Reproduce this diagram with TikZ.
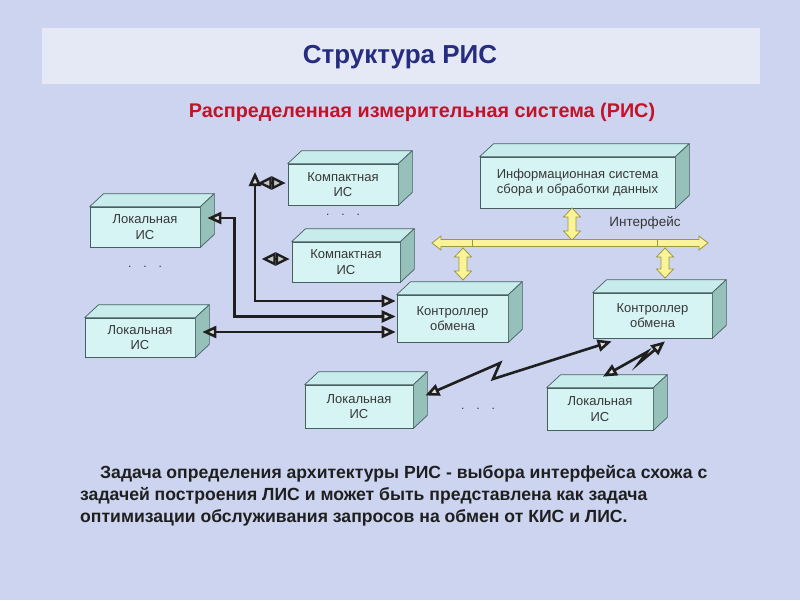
\documentclass[tikz,border=0pt]{standalone}
\usepackage{fontspec}
\setmainfont{Liberation Sans}
\usetikzlibrary{arrows.meta,calc}
\definecolor{bgc}{RGB}{204,212,240}
\definecolor{bandc}{RGB}{228,233,245}
\definecolor{titlec}{RGB}{38,44,128}
\definecolor{subc}{RGB}{196,18,40}
\definecolor{frontc}{RGB}{214,244,244}
\definecolor{topc}{RGB}{200,236,236}
\definecolor{sidec}{RGB}{150,192,186}
\definecolor{edgec}{RGB}{70,96,96}
\definecolor{txtc}{RGB}{55,55,55}
\definecolor{yelc}{RGB}{250,244,150}
\definecolor{yeledge}{RGB}{160,150,60}
\tikzset{
  frontbox/.style={draw=edgec, fill=frontc, line width=0.7pt, inner sep=0pt,
    align=center, text=txtc, font=\fontsize{13}{15.5}\selectfont},
  topface/.style={draw=edgec, fill=topc, line width=0.7pt, line join=round},
  sideface/.style={draw=edgec, fill=sidec, line width=0.7pt, line join=round},
  conn/.style={draw=black!88, line width=2.6pt, line join=miter,
    {Triangle[length=14pt,width=12pt,fill=white!75!gray]}-{Triangle[length=14pt,width=12pt,fill=white!75!gray]}},
  diam/.style={draw=black!88, line width=2.4pt,
    {Triangle[length=14pt,width=13pt,fill=white!55!gray]}-{Triangle[length=14pt,width=13pt,fill=white!55!gray]}},
  yarrow/.style={draw=yeledge, fill=yelc, line width=0.8pt, line join=miter},
  dots/.style={font=\fontsize{12}{12}\selectfont, text=txtc},
  bottomtxt/.style={anchor=base west, font=\fontsize{17.6}{20}\selectfont\bfseries, text=black!88, inner sep=0pt}
}
\newcommand\cubebox[6]{%
  \node[frontbox, minimum width=#4, minimum height=#5] (#1) at (#2,#3) {#6};
  \filldraw[topface] (#1.north west) -- ++(14,-13) -- ($(#1.north east)+(14,-13)$) -- (#1.north east) -- cycle;
  \filldraw[sideface] (#1.north east) -- ++(14,-13) -- ($(#1.south east)+(14,-13)$) -- (#1.south east) -- cycle;
}
\newcommand\yvarrow[3]{% x, y1, y2
  \filldraw[yarrow] (#1,#2) -- (#1+8.5,#2+9) -- (#1+4,#2+9) -- (#1+4,#3-9) -- (#1+8.5,#3-9)
    -- (#1,#3) -- (#1-8.5,#3-9) -- (#1-4,#3-9) -- (#1-4,#2+9) -- (#1-8.5,#2+9) -- cycle;
}
\begin{document}
\begin{tikzpicture}[x=1pt,y=-1pt]
\useasboundingbox (0,0) rectangle (800,600);
\fill[bgc] (0,0) rectangle (800,600);
\fill[bandc] (42,28) rectangle (760,84);
\node[text=titlec, font=\fontsize{26}{30}\selectfont\bfseries] (title) at (400,57) {Структура РИС};
\node[text=subc, font=\fontsize{19.8}{23}\selectfont\bfseries] (sub) at (422,112) {Распределенная измерительная система (РИС)};

% boxes
\cubebox{kis1}{343}{184.5}{110}{41}{Компактная\\ИС}
\cubebox{kis2}{346}{262}{108}{40}{Компактная\\ИС}
\cubebox{info}{577.5}{182.5}{195}{51}{Информационная система\\сбора и обработки данных}
\cubebox{lis1}{145}{227}{110}{40}{Локальная\\ИС}
\cubebox{lis2}{140}{337.5}{110}{39}{Локальная\\ИС}
\cubebox{ctrl1}{452.5}{318.5}{111}{47}{Контроллер\\обмена}
\cubebox{ctrl2}{652.5}{315.5}{119}{45}{Контроллер\\обмена}
\cubebox{lis3}{359}{406.5}{108}{43}{Локальная\\ИС}
\cubebox{lis4}{600}{409}{106}{42}{Локальная\\ИС}

% dots
\node[dots] (d1) at (343,215) {.\quad.\quad.};
\node[dots] (d2) at (145,267) {.\quad.\quad.};
\node[dots] (d3) at (478,409) {.\quad.\quad.};

% interface
\yvarrow{572}{208}{240}
\yvarrow{463}{248}{280}
\yvarrow{665}{248}{278}
\filldraw[yarrow] (432,243) -- (441,236) -- (441,239.5) -- (699,239.5) -- (699,236) -- (708,243)
  -- (699,250) -- (699,246.5) -- (441,246.5) -- (441,250) -- cycle;
\draw[yeledge, line width=0.8pt] (472,239.5) -- (472,246.5) (657,239.5) -- (657,246.5);
\node[text=txtc, font=\fontsize{13.5}{15}\selectfont] (iface) at (645,223) {Интерфейс};

% connectors to controller 1
\coordinate (vtop) at (255,172);
\draw[conn] (vtop) |- ($(ctrl1.west)+(-1,-17.5)$);
\draw[conn] ($(lis1.east)+(7,-9)$) -- ++(27,0) |- ($(ctrl1.west)+(-1,-2)$);
\draw[conn] ($(lis2.east)+(7,-5.5)$) -- ($(ctrl1.west)+(-1,13.5)$);
\draw[diam] ($(kis1.west)+(-30,-1.5)$) -- ($(kis1.west)+(-2,-1.5)$);
\draw[diam] ($(kis2.west)+(-30,-3)$) -- ($(kis2.west)+(-2,-3)$);

% lightning connectors
\draw[conn] ($(lis3.east)+(12,-11)$) -- (500,363) -- (493,379) -- ($(ctrl2.south west)+(19,3)$);
\draw[conn] ($(lis4.north)+(3,-11)$) -- (647,352) -- (639,363) -- ($(ctrl2.south)+(12.5,3)$);

% bottom text
\node[bottomtxt] (t1) at (100,478) {Задача определения архитектуры РИС - выбора интерфейса схожа с};
\node[bottomtxt] (t2) at (80,500) {задачей построения ЛИС и может быть представлена как задача};
\node[bottomtxt] (t3) at (80,522) {оптимизации обслуживания запросов на обмен от КИС и ЛИС.};
\end{tikzpicture}
\end{document}
